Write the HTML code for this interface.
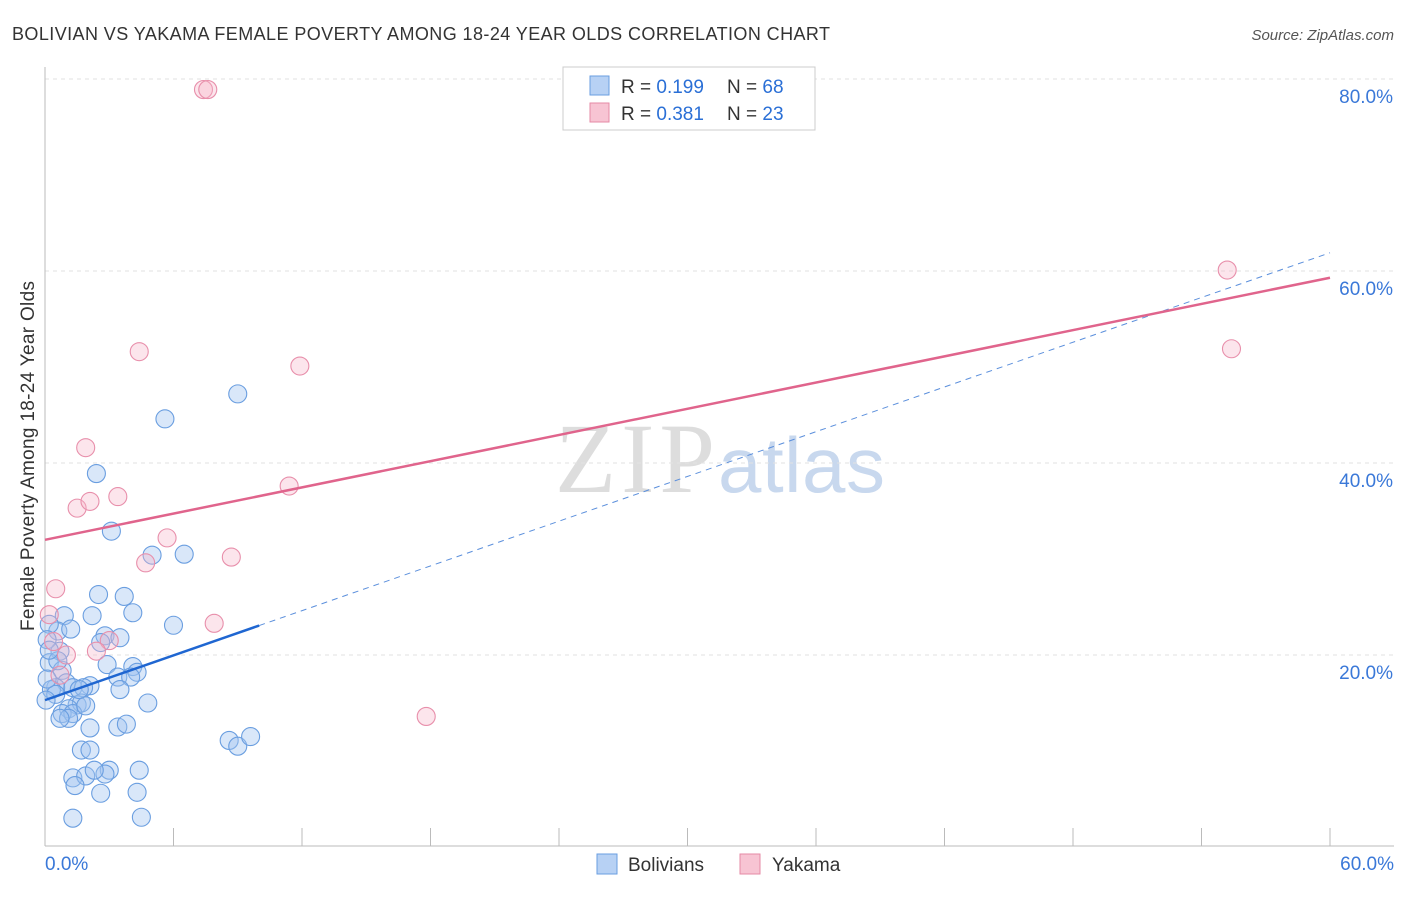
<!DOCTYPE html>
<html><head><meta charset="utf-8"><style>
body{margin:0;background:#fff;font-family:"Liberation Sans",sans-serif}
</style></head><body>
<svg id="c" width="1406" height="892" xmlns="http://www.w3.org/2000/svg">
<text x="12" y="40" font-size="18" fill="#333" textLength="818">BOLIVIAN VS YAKAMA FEMALE POVERTY AMONG 18-24 YEAR OLDS CORRELATION CHART</text>
<text x="1394" y="40" font-size="15" fill="#555" text-anchor="end" font-style="italic">Source: ZipAtlas.com</text>
<text x="555" y="492" font-size="100" fill="#ddd" textLength="160" font-family="Liberation Serif">ZIP</text>
<text x="718" y="492" font-size="78" fill="#c8d8ee" textLength="167">atlas</text>
<text transform="translate(34,456) rotate(-90)" font-size="19" fill="#333" text-anchor="middle" textLength="350">Female Poverty Among 18-24 Year Olds</text>
<g id="grid"></g><g id="pts"></g><g id="lines"></g>
<g>
<rect x="563" y="67" width="252" height="63" fill="#fff" stroke="#ccc"/>
<rect x="590" y="76" width="19" height="19" fill="#b7d1f4" stroke="#6a9ee0"/>
<text x="621" y="93" font-size="19" fill="#333">R = <tspan fill="#2a6fd6">0.199</tspan></text>
<text x="727" y="93" font-size="19" fill="#333">N = <tspan fill="#2a6fd6">68</tspan></text>
<rect x="590" y="103" width="19" height="19" fill="#f7c4d3" stroke="#e68aa6"/>
<text x="621" y="120" font-size="19" fill="#333">R = <tspan fill="#2a6fd6">0.381</tspan></text>
<text x="727" y="120" font-size="19" fill="#333">N = <tspan fill="#2a6fd6">23</tspan></text>
</g>
<g>
<rect x="597" y="854" width="20" height="20" fill="#b7d1f4" stroke="#6a9ee0"/>
<text x="628" y="871" font-size="19" fill="#333">Bolivians</text>
<rect x="740" y="854" width="20" height="20" fill="#f7c4d3" stroke="#e68aa6"/>
<text x="772" y="871" font-size="19" fill="#333">Yakama</text>
</g>
</svg>
<script>
const yTicks=[20,40,60,80];
const xTickLabels=["0.0%","60.0%"];
const blueX=[5.6,9.0,2.4,3.1,5.0,6.5,2.5,3.7,0.9,2.2,4.1,6.0,0.6,1.2,2.8,3.5,2.6,0.7,0.2,2.9,4.1,4.3,3.4,4.0,0.8,1.0,0.5,1.3,2.1,1.8,4.8,1.5,1.7,1.1,0.8,1.3,1.9,1.1,2.1,3.4,3.8,8.6,9.0,9.6,1.7,2.1,1.3,1.9,3.0,2.8,4.4,1.4,2.6,4.3,1.3,4.5,0.2,0.1,0.3,0.5,0.1,0.7,2.3,0.6,0.05,0.2,1.6,3.5];
const blueY=[44.6,47.2,38.9,32.9,30.4,30.5,26.3,26.1,24.1,24.1,24.4,23.1,22.5,22.7,22.0,21.8,21.3,20.4,19.2,19.0,18.8,18.2,17.7,17.7,18.4,17.1,16.6,16.6,16.8,16.6,15.0,14.8,15.0,14.4,13.9,13.9,14.7,13.4,12.4,12.5,12.8,11.1,10.5,11.5,10.1,10.1,7.2,7.4,8.0,7.6,8.0,6.4,5.6,5.7,3.0,3.1,23.2,21.6,16.4,15.9,17.5,13.4,8.0,19.4,15.3,20.5,16.4,16.4];
const pinkX=[7.4,7.6,4.4,11.9,1.9,1.5,2.1,3.4,11.4,5.7,4.7,8.7,0.5,7.9,3.0,2.4,1.0,0.4,55.2,55.4,17.8,0.7,0.2];
const pinkY=[78.9,78.9,51.6,50.1,41.6,35.3,36.0,36.5,37.6,32.2,29.6,30.2,26.9,23.3,21.5,20.4,20.0,21.4,60.1,51.9,13.6,17.9,24.2];
const blueTrend=[15.3,61.9], pinkTrend=[32.0,59.3];
const X0=45,X1=1330,XMAX=60,Y0=847,PPY=9.6;
const sx=v=>X0+v/XMAX*(X1-X0), sy=v=>Y0-v*PPY;
const NS="http://www.w3.org/2000/svg";
function mk(t,a,p){const e=document.createElementNS(NS,t);for(const k in a)e.setAttribute(k,a[k]);document.getElementById(p).appendChild(e);return e;}
yTicks.forEach(t=>{
 const l=mk('line',{x1:X0,x2:1394,y1:sy(t),y2:sy(t),stroke:'#e2e2e2','stroke-dasharray':'4,4'},'grid');
 
 
 const tx=mk('text',{x:1393,y:sy(t)+24,'font-size':19,fill:'#3a78d8','text-anchor':'end'},'grid');
 tx.textContent=t.toFixed(1)+'%';
 
 
});
mk('line',{x1:X0,x2:X0,y1:67,y2:846,stroke:'#bbb'},'grid');
mk('line',{x1:X0,x2:1394,y1:846,y2:846,stroke:'#bbb'},'grid');
for(let i=1;i<=10;i++){const x=X0+i*(X1-X0)/10;mk('line',{x1:x,x2:x,y1:828,y2:846,stroke:'#bbb'},'grid');}
xTickLabels.forEach((s,i)=>{
 const tx=mk('text',{x:i?1394:45,y:870,'font-size':19,fill:'#3a78d8','text-anchor':i?'end':'start'},'grid');
 tx.textContent=s;
 
 
});
blueX.forEach((x,i)=>{
 const c=mk('circle',{cx:sx(x),cy:sy(blueY[i]),r:9,fill:'rgba(160,195,240,0.4)',stroke:'#6a9ee0','stroke-width':1.1},'pts');
 
 
});
pinkX.forEach((x,i)=>{
 const c=mk('circle',{cx:sx(x),cy:sy(pinkY[i]),r:9,fill:'rgba(245,180,200,0.35)',stroke:'#e88fab','stroke-width':1.1},'pts');
 
 
});
const by=x=>blueTrend[0]+(blueTrend[1]-blueTrend[0])*x/XMAX;
const d=mk('line',{x1:sx(10),y1:sy(by(10)),x2:sx(60),y2:sy(by(60)),stroke:'#5b8fdc','stroke-dasharray':'6,5','stroke-width':1},'lines');


const b=mk('line',{x1:sx(0),y1:sy(by(0)),x2:sx(10),y2:sy(by(10)),stroke:'#1f66d1','stroke-width':2.5},'lines');


const p=mk('line',{x1:sx(0),y1:sy(pinkTrend[0]),x2:sx(60),y2:sy(pinkTrend[1]),stroke:'#e0648c','stroke-width':2.5},'lines');


</script>
</body></html>
